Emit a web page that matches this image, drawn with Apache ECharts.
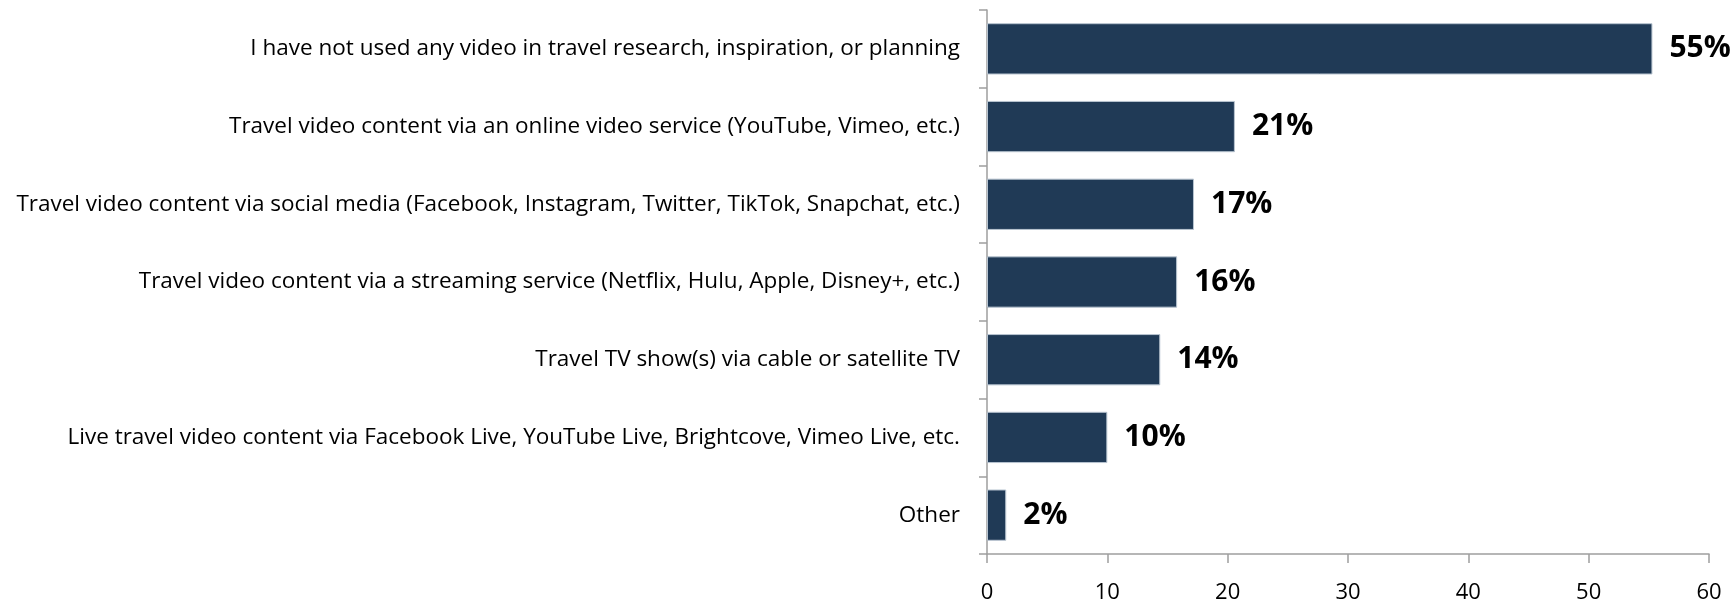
<!DOCTYPE html>
<html>
<head>
<meta charset="utf-8">
<script src="https://cdn.jsdelivr.net/npm/echarts@6/dist/echarts.min.js"></script>
<style>
html,body{margin:0;padding:0;background:#fff;}
#c{width:1736px;height:604px;}
</style>
</head>
<body>
<div id="c"></div>
<script>
const categories = [
  "I have not used any video in travel research, inspiration, or planning",
  "Travel video content via an online video service (YouTube, Vimeo, etc.)",
  "Travel video content via social media (Facebook, Instagram, Twitter, TikTok, Snapchat, etc.)",
  "Travel video content via a streaming service (Netflix, Hulu, Apple, Disney+, etc.)",
  "Travel TV show(s) via cable or satellite TV",
  "Live travel video content via Facebook Live, YouTube Live, Brightcove, Vimeo Live, etc.",
  "Other"
];
const values = [55.3, 20.6, 17.2, 15.8, 14.4, 10.0, 1.6];
const valueLabels = ["55%", "21%", "17%", "16%", "14%", "10%", "2%"];
const xTicks = [0, 10, 20, 30, 40, 50, 60];

const chart = echarts.init(document.getElementById('c'), null, {renderer: 'canvas'});
chart.setOption({
  animation: false,
  backgroundColor: '#ffffff',
  grid: {left: 987, right: 27, top: 10, bottom: 50, containLabel: false},
  xAxis: {
    type: 'value',
    min: xTicks[0],
    max: xTicks[xTicks.length - 1],
    interval: 10,
    axisLine: {show: true, lineStyle: {color: '#9e9e9e', width: 1.5}},
    axisTick: {show: true, length: 9, lineStyle: {color: '#9e9e9e', width: 1.5}},
    splitLine: {show: false},
    axisLabel: {fontFamily: 'Open Sans', fontSize: 22, color: '#000', margin: 28}
  },
  yAxis: {
    type: 'category',
    inverse: true,
    data: categories,
    axisLine: {show: true, lineStyle: {color: '#9e9e9e', width: 1.5}},
    axisTick: {show: true, length: 8, alignWithLabel: false, lineStyle: {color: '#9e9e9e', width: 1.5}},
    axisLabel: {fontFamily: 'Open Sans', fontSize: 22.5, color: '#000', margin: 27}
  },
  series: [{
    type: 'bar',
    data: values,
    barWidth: '66%',
    itemStyle: {color: '#203a56', borderColor: '#b8c4d0', borderWidth: 1},
    label: {
      show: true,
      position: 'right',
      distance: 17,
      fontFamily: 'Open Sans',
      fontWeight: 'bold',
      fontSize: 30,
      color: '#000',
      formatter: p => valueLabels[p.dataIndex]
    }
  }]
});
</script>
</body>
</html>
